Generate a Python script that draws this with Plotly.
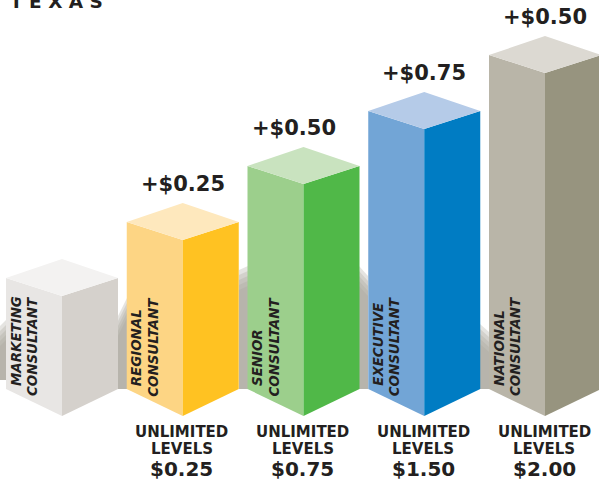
import plotly.graph_objects as go

# ---- data ----
title = "T E X A S"
ranks = ["MARKETING", "REGIONAL", "SENIOR", "EXECUTIVE", "NATIONAL"]
role = "CONSULTANT"
bar_heights = [120, 176, 232, 287, 343]
increments = [None, "+$0.25", "+$0.50", "+$0.75", "+$0.50"]
level_rates = [None, "$0.25", "$0.75", "$1.50", "$2.00"]
left_colors = ["#e8e6e4", "#fdd584", "#9ccf8c", "#72a5d6", "#b9b5a8"]
right_colors = ["#d5d1cc", "#ffc222", "#50b848", "#007cc3", "#97947f"]
top_colors = ["#f3f2f1", "#fee8bd", "#c9e3bf", "#b5cbe8", "#dcd9d2"]

INK = "#231f20"
FONT = "DejaVu Sans"
STEP, X0, HALF = 120.75, 6, 56
SIDE_RISE, TOP_RISE, TOP_BACK = 27, 18, 37
LABEL_NUDGE = [0, 0, -10, 0, 0]

# soft shadows showing in the gaps: x0, x1, y bottom, y top left, y top right
shadows = [
    (0, 6, 36, 90, 96),
    (118, 127, 27, 100, 118),
    (239, 248, 27, 146, 150),
    (359, 368, 27, 150, 140),
    (480, 489, 27, 92, 84),
]

fig = go.Figure()


def poly(xs, ys, color, opacity=1.0):
    fig.add_trace(go.Scatter(x=xs + xs[:1], y=ys + ys[:1], mode="lines", fill="toself",
                             fillcolor=color, line=dict(width=0), opacity=opacity,
                             hoverinfo="skip", showlegend=False))


for x0, x1, yb, yl, yr in shadows:
    for k in range(5):
        inset = k * 5
        poly([x0, x1, x1, x0], [yb, yb, yr - inset, yl - inset], "#aaa49d", 0.3)

for i, h in enumerate(bar_heights):
    l = X0 + i * STEP
    c = l + HALF
    r = c + HALF
    poly([l, c, c, l], [SIDE_RISE, 0, h, h + TOP_RISE], left_colors[i])
    poly([c, r, r, c], [0, SIDE_RISE, h + TOP_RISE, h], right_colors[i])
    poly([l, c, r, c], [h + TOP_RISE, h, h + TOP_RISE, h + TOP_BACK], top_colors[i])


def note(x, y, text, size, angle=0, italic=False, xa="center", ya="middle"):
    fig.add_annotation(x=x, y=y, text=text, showarrow=False, textangle=angle,
                       xanchor=xa, yanchor=ya, borderpad=0,
                       font=dict(family=FONT, size=size, color=INK, weight=700,
                                 style="italic" if italic else "normal"))


for i, h in enumerate(bar_heights):
    c = X0 + i * STEP + HALF
    note(X0 + i * STEP + 10, 29, ranks[i], 13.4, -90, True, ya="bottom")
    note(X0 + i * STEP + 26.5, 18.5, role, 13.4, -90, True, ya="bottom")
    if increments[i]:
        note(c + LABEL_NUDGE[i], h + 56, increments[i], 21)
    if level_rates[i]:
        note(c - 1, -16, "UNLIMITED", 15)
        note(c - 1, -33, "LEVELS", 15)
        note(c - 1, -53, level_rates[i], 20)

note(9, 414.5, title, 18.5, xa="left")

fig.update_layout(
    width=599, height=482, margin=dict(l=0, r=0, t=0, b=0),
    paper_bgcolor="white", plot_bgcolor="white", showlegend=False,
    xaxis=dict(range=[0, 599], visible=False, fixedrange=True),
    yaxis=dict(range=[-66, 416], visible=False, fixedrange=True),
)
fig.write_html("out.html", config={"displayModeBar": False},
               post_script="document.body.style.margin='0';document.body.style.overflow='hidden';")
